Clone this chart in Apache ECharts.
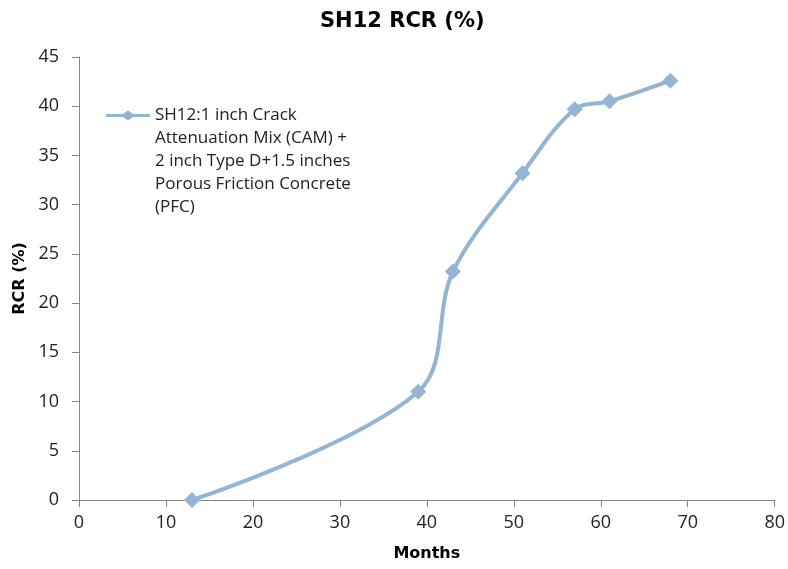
<!DOCTYPE html>
<html><head><meta charset="utf-8">
<script src="https://cdn.jsdelivr.net/npm/echarts@6/dist/echarts.min.js"></script>
<style>html,body{margin:0;padding:0;background:#fff}#c{width:788px;height:569px}</style>
</head><body><div id="c"></div>
<script>
const months = [13, 39, 43, 51, 57, 61, 68];
const rcr = [0, 11, 23.2, 33.2, 39.7, 40.5, 42.6];
const seriesName = 'SH12:1 inch Crack\nAttenuation Mix (CAM) +\n2 inch Type D+1.5 inches\nPorous Friction Concrete\n(PFC)';
const titleText = 'SH12 RCR (%)';
const xName = 'Months';
const yName = 'RCR (%)';

const FONT = '"Open Sans", sans-serif';
const BOLDFONT = '"DejaVu Sans", sans-serif';
const LINE = '#93b5d3';
const chart = echarts.init(document.getElementById('c'));
chart.setOption({
  animation: false,
  backgroundColor: '#fff',
  title: {
    text: titleText, left: 315, top: 6,
    textStyle: {fontFamily: BOLDFONT, fontWeight: 'bold', fontSize: 21, color: '#000'}
  },
  legend: {
    left: 106, top: 12, orient: 'vertical', padding: 0,
    itemWidth: 44, itemHeight: 10, itemGap: 0,
    formatter: function (n) { return '\n\n\n\n' + n; },
    textStyle: {fontFamily: FONT, fontSize: 17, color: '#222', lineHeight: 23},
    data: [{name: seriesName, icon: 'path://M0,3.6 L17,3.6 L22,0 L27,3.6 L44,3.6 L44,6.4 L27,6.4 L22,10 L17,6.4 L0,6.4 Z'}]
  },
  grid: {left: 79, right: 12, top: 57, bottom: 69},
  xAxis: {
    type: 'value', min: 0, max: 80, interval: 10,
    name: xName, nameLocation: 'middle', nameGap: 46,
    nameTextStyle: {fontFamily: BOLDFONT, fontWeight: 'bold', fontSize: 16, color: '#000'},
    axisLine: {show: true, lineStyle: {color: '#868686', width: 1}},
    axisTick: {show: true, inside: false, length: 7, lineStyle: {color: '#868686'}},
    axisLabel: {fontFamily: FONT, fontSize: 18, color: '#222', margin: 14},
    splitLine: {show: false}
  },
  yAxis: {
    type: 'value', min: 0, max: 45, interval: 5,
    name: yName, nameLocation: 'middle', nameGap: 50, nameRotate: 90,
    nameTextStyle: {fontFamily: BOLDFONT, fontWeight: 'bold', fontSize: 16, color: '#000'},
    axisLine: {show: true, lineStyle: {color: '#868686', width: 1}},
    axisTick: {show: true, inside: false, length: 7, lineStyle: {color: '#868686'}},
    axisLabel: {fontFamily: FONT, fontSize: 18, color: '#222', margin: 20},
    splitLine: {show: false}
  },
  series: [{
    name: seriesName,
    type: 'line',
    data: months.map((m, i) => [m, rcr[i]]),
    smooth: 0.35,
    symbol: 'diamond', symbolSize: 16,
    lineStyle: {color: LINE, width: 4},
    itemStyle: {color: LINE}
  }]
});
</script></body></html>
